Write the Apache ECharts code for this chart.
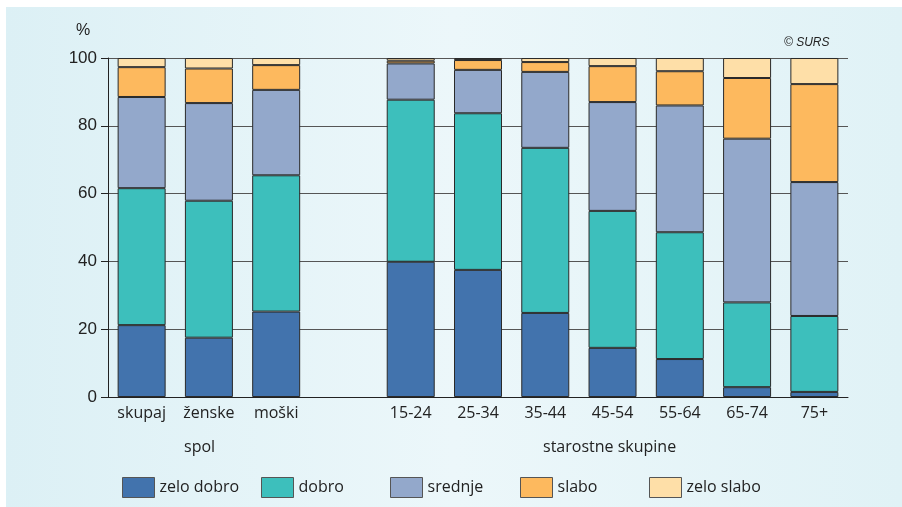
<!DOCTYPE html>
<html>
<head>
<meta charset="utf-8">
<script src="https://cdn.jsdelivr.net/npm/echarts@6/dist/echarts.min.js"></script>
<style>html,body{margin:0;padding:0;background:#fff}#c{width:902px;height:507px}</style>
</head>
<body>
<div id="c"></div>
<script>
var categories = ['skupaj', 'ženske', 'moški', '', '15-24', '25-34', '35-44', '45-54', '55-64', '65-74', '75+'];
var seriesNames = ['zelo dobro', 'dobro', 'srednje', 'slabo', 'zelo slabo'];
var zeloDobro = [21.2, 17.5, 25.2, null, 39.9, 37.5, 24.8, 14.5, 11.2, 2.9, 1.5];
var dobro     = [40.4, 40.4, 40.2, null, 47.8, 46.2, 48.7, 40.4, 37.4, 25.0, 22.4];
var srednje   = [26.9, 28.8, 25.2, null, 10.7, 12.8, 22.4, 32.1, 37.4, 48.3, 39.5];
var slabo     = [8.8, 10.2, 7.3, null, 0.8, 2.9, 2.9, 10.6, 10.1, 17.9, 28.9];
var zeloSlabo = [2.7, 3.1, 2.1, null, 0.8, 0.6, 1.2, 2.4, 3.9, 5.9, 7.7];
var yTicks = [0, 20, 40, 60, 80, 100];
var colors = ['#4273ad', '#3dbfbc', '#93a8cb', '#fdb95e', '#fedfa8'];
var values = [zeloDobro, dobro, srednje, slabo, zeloSlabo];
var legendLeft = [122, 261, 390, 520, 649];

var font = '"Open Sans", "Noto Sans", sans-serif';
var chart = echarts.init(document.getElementById('c'));
var series = seriesNames.map(function (n, i) {
  return {
    name: n, type: 'bar', stack: 'total', barWidth: 48,
    data: values[i],
    itemStyle: { color: colors[i], borderColor: '#2a2a2a', borderWidth: 1 },
    z: 3
  };
});
var legends = seriesNames.map(function (n, i) {
  return {
    data: [n], left: legendLeft[i], top: 477, padding: 0, itemWidth: 32, itemHeight: 20, itemGap: 6,
    icon: 'rect', selectedMode: false,
    textStyle: { fontFamily: font, fontSize: 16, color: '#222' },
    itemStyle: { borderColor: '#555', borderWidth: 1 }
  };
});
chart.setOption({
  animation: false,
  graphic: [
    { type: 'rect', z: -10, shape: { x: 6, y: 7, width: 896, height: 500 },
      style: { fill: new echarts.graphic.LinearGradient(0, 0, 1, 0, [
        { offset: 0, color: '#dcf0f5' }, { offset: 0.5, color: '#ecf7fa' }, { offset: 1, color: '#e0f2f6' }]) } },
    { type: 'text', left: 76, top: 23, style: { text: '%', font: '16px "Liberation Sans", Arial, sans-serif', fill: '#222' } },
    { type: 'text', left: 784, top: 37, style: { text: '© SURS', font: 'italic 12px "Liberation Sans", Arial, sans-serif', fill: '#222' } },
    { type: 'text', left: 184, top: 439, style: { text: 'spol', font: '16px ' + font, fill: '#222' } },
    { type: 'text', left: 543, top: 439, style: { text: 'starostne skupine', font: '16px ' + font, fill: '#222' } }
  ],
  legend: legends,
  grid: { left: 108, right: 54, top: 58, bottom: 110 },
  xAxis: {
    type: 'category', data: categories,
    axisLine: { lineStyle: { color: '#222', width: 1 } },
    axisTick: { show: false },
    axisLabel: { fontFamily: font, fontSize: 16, color: '#222', margin: 8 }
  },
  yAxis: {
    type: 'value', min: 0, max: 100, interval: 20,
    axisLine: { show: true, lineStyle: { color: '#222' } },
    axisTick: { show: true, length: 7, lineStyle: { color: '#222' } },
    axisLabel: { fontFamily: '"Liberation Sans", Arial, sans-serif', fontSize: 17, color: '#222', margin: 11,
      formatter: function (v) { return yTicks.indexOf(v) >= 0 ? String(v) : ''; } },
    splitLine: { show: true, lineStyle: { color: '#555', width: 1 } }
  },
  series: series
});
</script>
</body>
</html>
